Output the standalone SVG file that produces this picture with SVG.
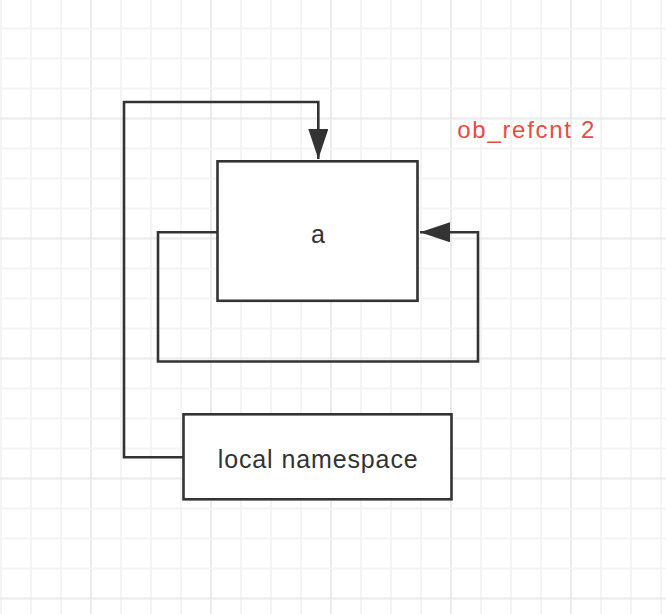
<svg xmlns="http://www.w3.org/2000/svg" width="666" height="614" viewBox="0 0 666 614">
<style>
.g{stroke:#f4f4f4;stroke-width:2}
.G{stroke:#eaeaea;stroke-width:2}
.box{fill:#fff;stroke:#333;stroke-width:2.6}
.edge{fill:none;stroke:#333;stroke-width:2.6}
.t{font-family:"Liberation Sans",Arial,Helvetica,sans-serif;fill:#333;font-size:25px}
.r{font-family:"Liberation Sans",Arial,Helvetica,sans-serif;fill:#e94b43;font-size:24px}
</style>
<defs>
<marker id="arr" markerWidth="30" markerHeight="20" viewBox="0 0 30 20" refX="30" refY="10" orient="auto" markerUnits="userSpaceOnUse">
<path d="M0,0 L30,10 L0,20 Z" fill="#333"/>
</marker>
</defs>
<rect width="666" height="614" fill="#fff"/>
<g id="grid">
<path class="g" d="M1,0V614M31,0V614M61,0V614M121,0V614M151,0V614M181,0V614M241,0V614M271,0V614M301,0V614M361,0V614M391,0V614M421,0V614M481,0V614M511,0V614M541,0V614M601,0V614M631,0V614M661,0V614"/>
<path class="G" d="M91,0V614M211,0V614M331,0V614M451,0V614M571,0V614"/>
<path class="g" d="M0,28.5H666M0,58.5H666M0,88.5H666M0,148.5H666M0,178.5H666M0,208.5H666M0,268.5H666M0,298.5H666M0,328.5H666M0,388.5H666M0,418.5H666M0,448.5H666M0,508.5H666M0,538.5H666M0,568.5H666"/>
<path class="G" d="M0,118.5H666M0,238.5H666M0,358.5H666M0,478.5H666M0,598.5H666"/>
</g>
<g id="connectors">
<path class="edge" d="M183.5,457.3H124V102H318.3V159" marker-end="url(#arr)"/>
<path class="edge" d="M217.5,232.3H158V361.5H478V232.3H420" marker-end="url(#arr)"/>
</g>
<g id="node-a">
<rect class="box" x="217.5" y="161.3" width="200" height="139.5"/>
<text class="t" x="318" y="243" text-anchor="middle">a</text>
</g>
<g id="node-local">
<rect class="box" x="183.5" y="414.3" width="268" height="85"/>
<text class="t" x="317.7" y="468" text-anchor="middle" textLength="200" lengthAdjust="spacing">local namespace</text>
</g>
<g id="label-refcnt">
<text class="r" x="457.3" y="137.7" textLength="137" lengthAdjust="spacing">ob_refcnt 2</text>
</g>
</svg>
